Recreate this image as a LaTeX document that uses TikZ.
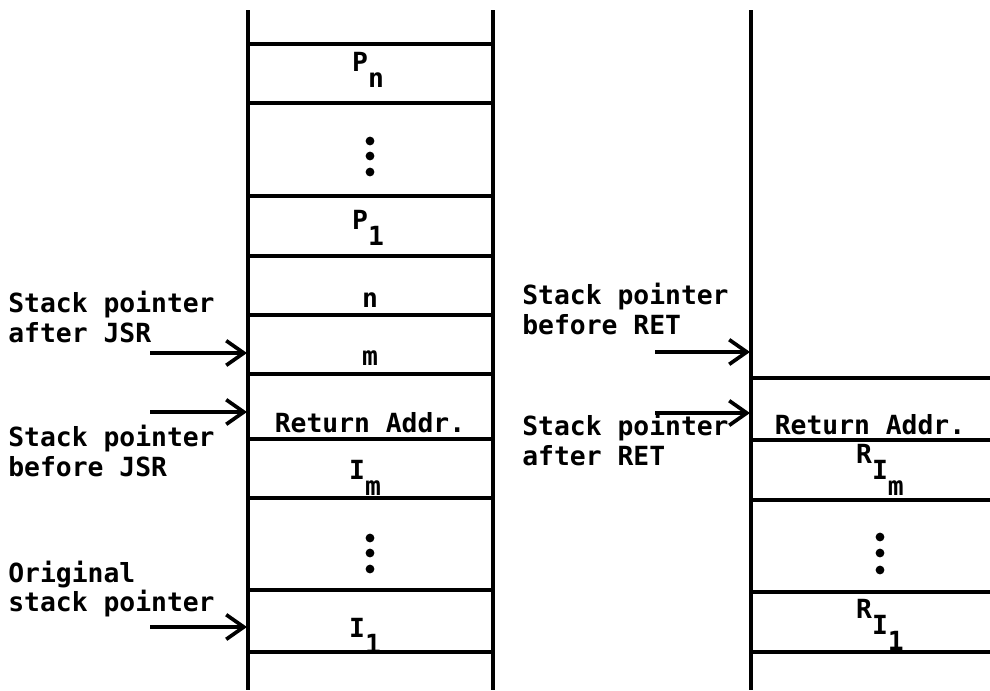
\documentclass[tikz,border=0pt]{standalone}
\usepackage{fontspec}
\setmainfont{DejaVu Sans Mono}
\usetikzlibrary{arrows.meta}
\tikzset{
  wall/.style={line width=2.2pt},
  sep/.style={line width=2.1pt},
  ptr/.style={line width=2.1pt,-{Straight Barb[length=10pt,width=14pt,line width=2.1pt]}},
  lbl/.style={inner sep=0pt,font=\fontsize{15}{17}\selectfont\bfseries},
  side/.style={lbl,anchor=west,align=left},
  dot/.style={circle,fill=black,inner sep=0pt,minimum size=5pt}
}
\newcommand{\sub}[2]{#1\raisebox{-0.62em}{#2}}
\begin{document}
\begin{tikzpicture}[x=0.02cm,y=-0.02cm]
\useasboundingbox (0,0) rectangle (990,690);
% left stack walls
\coordinate (LT) at (248,10); \coordinate (LB) at (248,690);
\coordinate (RT) at (493,10); \coordinate (RB) at (493,690);
\draw[wall] (LT) -- (LB);
\draw[wall] (RT) -- (RB);
\foreach \y in {44,103,196,256,315,374,439,498,590,652}
  \draw[sep] (248,\y) -- (493,\y);
% left stack labels
\node[lbl] (pn) at (368,70) {\sub{P}{n}};
\node[dot] (d1) at (370,141) {};
\node[dot] (d2) at (370,156) {};
\node[dot] (d3) at (370,172) {};
\node[lbl] (p1) at (368,228) {\sub{P}{1}};
\node[lbl] (n) at (370,300) {n};
\node[lbl] (m) at (370,358) {m};
\node[lbl] (ra1) at (370,423) {Return Addr.};
\node[lbl] (im) at (365,478) {\sub{I}{m}};
\node[dot] (d4) at (370,538) {};
\node[dot] (d5) at (370,553) {};
\node[dot] (d6) at (370,569) {};
\node[lbl] (i1) at (365,636) {\sub{I}{1}};
% left side texts
\node[side] (t1) at (8,317) {Stack pointer\\after JSR};
\node[side] (t2) at (8,451) {Stack pointer\\before JSR};
\node[side] (t3) at (8,589) {Original\\stack pointer};
\coordinate (a1s) at (150,353); \coordinate (a1e) at (247,353);
\coordinate (a2s) at (150,412); \coordinate (a2e) at (247,412);
\coordinate (a3s) at (150,627); \coordinate (a3e) at (247,627);
\draw[ptr] (a1s) -- (a1e);
\draw[ptr] (a2s) -- (a2e);
\draw[ptr] (a3s) -- (a3e);
% right stack
\coordinate (R2T) at (751,10); \coordinate (R2B) at (751,690);
\draw[wall] (R2T) -- (R2B);
\foreach \y in {378,440,500,592,652}
  \draw[sep] (751,\y) -- (990,\y);
\node[lbl] (ra2) at (870,425) {Return Addr.};
\node[lbl] (rim) at (880,470) {\sub{R}{\sub{I}{m}}};
\node[dot] (d7) at (880,537) {};
\node[dot] (d8) at (880,553) {};
\node[dot] (d9) at (880,570) {};
\node[lbl] (ri1) at (880,625) {\sub{R}{\sub{I}{1}}};
\node[side] (t4) at (522,309) {Stack pointer\\before RET};
\node[side] (t5) at (522,440) {Stack pointer\\after RET};
\coordinate (b1s) at (655,352); \coordinate (b1e) at (750,352);
\coordinate (b2s) at (655,413); \coordinate (b2e) at (750,413);
\draw[ptr] (b1s) -- (b1e);
\draw[ptr] (b2s) -- (b2e);
\end{tikzpicture}
\end{document}
